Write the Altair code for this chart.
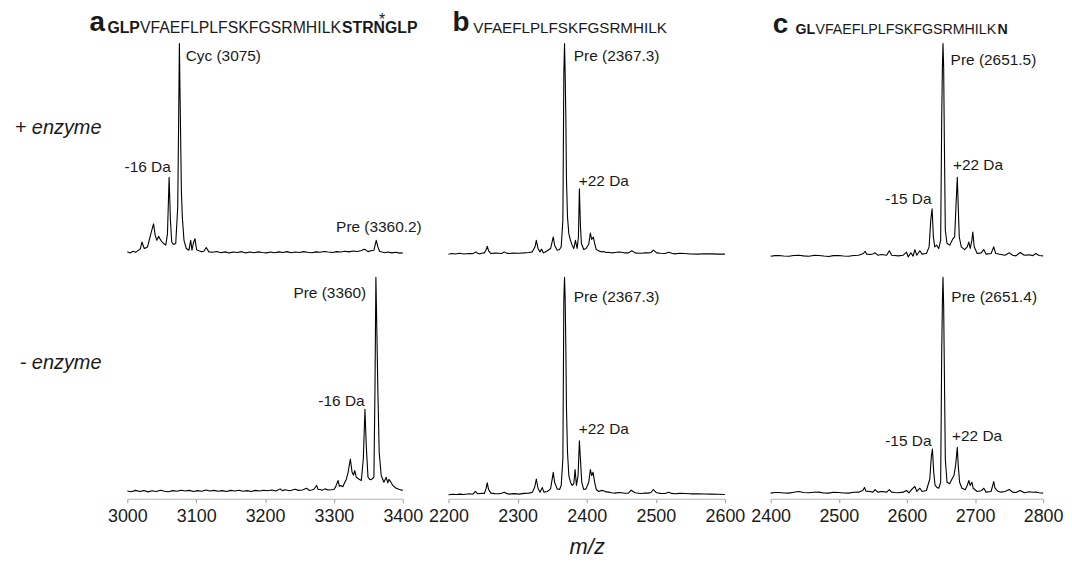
import altair as alt
import pandas as pd

FONT = "Liberation Sans"
INK = "#1a1a1a"

# ---------------- data (m/z, relative intensity) ----------------
a_top = [(3000, 0.5), (3004, 0.0), (3008, 0.8), (3012, 0.3), (3016, 1.2), (3019, 2.0), (3021.2, 5.2),
         (3024.6, 2.1), (3027, 2.4), (3029.4, 2.9), (3034.2, 9.2), (3038.1, 13.9), (3040.5, 8.4),
         (3042.9, 6.0), (3045.3, 7.9), (3048.6, 6.0), (3052.5, 4.5), (3055.9, 3.7), (3058.3, 9.2),
         (3060.7, 36.1), (3062.6, 15.5), (3064.5, 5.2), (3067, 4.0), (3070.3, 4.5), (3073.2, 21.9),
         (3074.6, 65.4), (3075.6, 100), (3077.0, 65.4), (3078.5, 29.8), (3079.9, 17.1), (3082.3, 6.0),
         (3085.7, 2.1), (3089.5, 1.3), (3092.0, 6.0), (3093.9, 1.3), (3095.8, 4.5), (3098.2, 6.8),
         (3100.6, 1.5), (3104.0, 1.0), (3108, 0.6), (3111.2, 0.8), (3114.6, 2.6), (3118.4, 0.5),
         (3124, 0.3), (3130, 0.7), (3136, 0.1), (3142, 0.5), (3148, 0.0), (3154, 0.4), (3160, 0.2),
         (3166, 0.6), (3172, 0.0), (3178, 0.4), (3184, 0.1), (3190, 0.5), (3196, 0.2), (3202, 0.0),
         (3208, 0.4), (3214, 0.1), (3220, 0.5), (3226, 0.2), (3232, 0.6), (3238, 0.1), (3244, 0.4),
         (3250, 0.2), (3256, 0.6), (3262, 0.3), (3268, 0.1), (3274, 0.5), (3280, 0.3), (3286, 0.7),
         (3292, 0.4), (3298, 0.2), (3304, 0.6), (3310, 0.4), (3316, 0.8), (3322, 0.5), (3328, 0.9),
         (3334, 0.7), (3339, 1.0), (3344.6, 1.8), (3349.5, 0.6), (3354, 1.0), (3358.1, 1.3),
         (3361.5, 6.0), (3363.9, 2.9), (3366.3, 0.8), (3370, 0.4), (3373.5, 0.1), (3378, 0.4),
         (3384, 0.0), (3390, 0.3), (3395, -0.1), (3400, 0.0)]

a_bot = [(3000, 0.6), (3006, 0.3), (3012, 0.9), (3018, 0.4), (3024, 0.8), (3030, 0.2), (3036, 0.7),
         (3042, 0.4), (3048, 1.0), (3054, 0.5), (3060, 0.3), (3066, 0.8), (3072, 0.5), (3078, 1.0),
         (3084, 0.6), (3090, 0.9), (3096, 0.4), (3102, 0.8), (3108, 0.5), (3114, 1.1), (3120, 0.6),
         (3126, 0.9), (3132, 0.5), (3138, 0.8), (3144, 0.4), (3150, 0.9), (3156, 0.6), (3162, 1.0),
         (3168, 0.5), (3174, 0.8), (3180, 0.4), (3186, 0.9), (3192, 0.6), (3198, 1.0), (3204, 0.7),
         (3210, 1.1), (3216, 0.6), (3221.9, 1.6), (3225, 0.8), (3229.1, 1.2), (3236, 0.7),
         (3243.6, 1.4), (3248.4, 0.9), (3254, 1.1), (3260.4, 1.9), (3264, 0.9), (3267.6, 1.1),
         (3271, 1.4), (3274.9, 3.2), (3277, 1.3), (3279.7, 1.3), (3283, 1.0), (3286.9, 1.6),
         (3292, 1.1), (3296.5, 1.2), (3300, 1.3), (3302.3, 2.4), (3306.1, 5.5), (3308, 2.8),
         (3310, 3.2), (3313, 2.6), (3315.8, 4.7), (3318, 6.0), (3320.6, 9.3), (3323.9, 15.5),
         (3326.4, 9.3), (3328.5, 8.0), (3330.2, 10.1), (3332.6, 7.0), (3336, 6.2), (3339.8, 5.5),
         (3342.7, 15.5), (3345.1, 38.6), (3347, 21.7), (3349.5, 7.0), (3352, 6.0), (3354.3, 5.9),
         (3358.1, 7.0), (3359.6, 46.3), (3361, 100), (3362.4, 74.8), (3363.9, 46.3), (3365.8, 18.6),
         (3368.7, 7.8), (3372.6, 4.7), (3375.9, 7.0), (3378.3, 4.4), (3380, 6.0), (3382.2, 5.0),
         (3385.5, 3.2), (3390.4, 1.9), (3395.2, 1.3), (3400, 0.9)]

b_top = [(2200, -0.6), (2205, -0.3), (2210, -0.5), (2215.8, -0.2), (2222, -0.5), (2230.2, -0.3),
         (2235, -0.4), (2239.8, 0.5), (2242.2, -0.2), (2244.6, -0.45), (2248, -0.2), (2251.8, 0.03),
         (2254.2, 1.3), (2256.1, 3.2), (2258.0, 1.0), (2261.4, -0.3), (2267, -0.1), (2273.4, -0.13),
         (2277, -0.3), (2280.6, 0.5), (2284, -0.1), (2287.8, -0.3), (2294, -0.1), (2302.2, -0.13),
         (2309, 0.0), (2316.5, 0.2), (2321.3, 0.5), (2325.2, 2.9), (2327.1, 6.0), (2329.5, 2.1),
         (2332.4, 0.5), (2334.8, 1.8), (2337.2, 0.03), (2340, 0.4), (2342.9, 1.0), (2347.7, 2.1),
         (2351.6, 7.6), (2353.5, 3.7), (2357.3, 1.3), (2360.7, 1.6), (2363.1, 2.9), (2365.5, 15.5),
         (2366.9, 85.2), (2367.9, 100), (2368.8, 86), (2369.8, 64.6), (2370.7, 35.3), (2372.2, 17.1),
         (2374.1, 9.2), (2376.5, 6.0), (2378.9, 3.7), (2381.3, 2.1), (2383.7, 6.0), (2386.1, 2.1),
         (2388.0, 7.6), (2389.4, 30.6), (2390.9, 13.2), (2392.3, 4.5), (2395.7, 1.6), (2399.0, 2.1),
         (2402.9, 4.1), (2405.3, 9.5), (2407.2, 6.4), (2409.6, 7.6), (2411.5, 4.5), (2413.9, 1.6),
         (2417.3, 0.97), (2421, 0.5), (2424.5, 0.66), (2428, 0.2), (2431.6, 0.34), (2436, 0.0),
         (2441.2, 0.2), (2446, 0.4), (2450.8, 0.34), (2455, 0.0), (2460.4, 0.03), (2465.2, 1.0),
         (2470.0, 0.03), (2475, -0.2), (2479.6, -0.13), (2484, 0.1), (2489.2, 0.03), (2493, 0.2),
         (2496.4, 1.3), (2501.2, 0.03), (2507, -0.2), (2513.2, -0.3), (2518.9, 0.34), (2523, -0.2),
         (2527.6, -0.45), (2535, -0.2), (2541.9, -0.3), (2550, -0.5), (2561.1, -0.6), (2570, -0.4),
         (2580.3, -0.45), (2590, -0.6), (2600, -0.6)]

b_bot = [(2200, -1.15), (2206, -0.9), (2212, -1.0), (2215.8, -0.85), (2222, -1.0), (2230.2, -0.69),
         (2235, -0.9), (2238.9, 0.39), (2242.2, -0.69), (2248, -0.5), (2251.8, -0.54), (2254.2, 1.6),
         (2256.1, 4.4), (2258.0, 1.3), (2261.4, -0.38), (2267, -0.6), (2273.4, -0.69), (2277, -0.4),
         (2280.6, 0.08), (2284, -0.5), (2287.8, -0.85), (2295, -0.6), (2302.2, -0.85), (2309, -0.5),
         (2316.5, -0.38), (2321.3, 0.08), (2324.7, 2.4), (2327.1, 6.2), (2329.5, 1.9), (2332.4, 0.08),
         (2335.7, 2.2), (2338.1, 0.08), (2342.9, 0.39), (2347.7, 1.6), (2351.6, 9.3), (2353.5, 4.7),
         (2357.3, 1.6), (2360.7, 1.3), (2363.1, 3.2), (2365.5, 15.5), (2366.9, 89.4), (2367.9, 100),
         (2368.8, 90.2), (2369.8, 67.1), (2370.7, 39.4), (2372.2, 18.6), (2374.1, 7.8), (2376.5, 4.7),
         (2378.9, 3.2), (2381.3, 4.0), (2383.2, 10.6), (2385.1, 3.2), (2387.5, 7.8), (2389.4, 24.0),
         (2390.9, 15.5), (2392.8, 4.7), (2395.7, 1.3), (2399.0, 1.6), (2402.9, 4.7), (2405.3, 10.6),
         (2407.2, 7.8), (2409.1, 9.3), (2411.5, 4.7), (2413.9, 1.3), (2417.3, 0.39), (2421, 0.9),
         (2424.5, 0.7), (2428, 0.2), (2431.6, 0.08), (2436, -0.2), (2441.2, -0.38), (2446, -0.1),
         (2450.8, -0.23), (2455, -0.4), (2460.4, -0.38), (2464.3, 1.0), (2470.0, -0.23), (2475, -0.4),
         (2479.6, -0.54), (2484, -0.3), (2489.2, -0.38), (2493, -0.1), (2496.4, 1.3), (2501.2, -0.23),
         (2507, -0.5), (2513.2, -0.54), (2518.9, 0.08), (2523, -0.5), (2527.6, -0.69), (2535, -0.5),
         (2541.9, -0.54), (2550, -0.7), (2561.1, -0.69), (2570, -0.8), (2580.3, -0.85), (2590, -0.9),
         (2600, -1.0)]

c_top = [(2400, -1.56), (2406, -1.3), (2412.2, -1.24), (2419, -1.5), (2426.8, -1.56), (2434, -1.2),
         (2441.4, -1.1), (2448, -1.4), (2456.0, -1.56), (2463, -1.2), (2470.6, -1.24), (2478, -1.5),
         (2485.2, -1.7), (2492, -1.3), (2499.8, -1.24), (2507, -1.5), (2514.4, -1.56), (2522, -1.2),
         (2529.0, -1.1), (2536.2, -0.3), (2538.7, 0.8), (2541.1, -0.6), (2546.0, -0.77), (2550, -0.5),
         (2553.3, 0.03), (2557.2, -1.1), (2563.0, -0.77), (2570.3, -1.1), (2574.2, 1.0), (2577.6, -1.1),
         (2582, -1.2), (2587.3, -1.4), (2594.6, -1.1), (2599.5, 0.34), (2601.9, -1.9), (2605.8, 0.03),
         (2609.2, -1.56), (2611.7, 1.6), (2614.6, -1.1), (2619.0, 1.0), (2622.4, -0.6), (2628.7, -0.3),
         (2632.6, 2.9), (2635.0, 15.5), (2637.0, 21.1), (2638.9, 7.6), (2640.9, 2.9), (2643.8, 3.7),
         (2646.7, 2.1), (2649.6, 6.0), (2651.1, 63.8), (2652.1, 88.3), (2653.0, 100), (2654.0, 88.3),
         (2655.0, 53.5), (2656.4, 10.8), (2658.9, 4.5), (2662.8, 3.7), (2665.2, 5.2), (2667.6, 6.8),
         (2670.1, 7.6), (2672.0, 21.9), (2674.0, 36.1), (2675.4, 21.9), (2676.9, 7.6), (2679.8, 2.9),
         (2684.7, 1.6), (2688.6, 2.9), (2691.0, 5.2), (2692.9, 2.1), (2695.4, 6.0), (2696.8, 10.0),
         (2698.8, 2.9), (2703.2, -0.3), (2709.0, 0.03), (2712.9, 1.6), (2716.3, -0.6), (2723.6, -0.3),
         (2727.5, 2.9), (2730.4, -0.3), (2738.2, -0.77), (2744.0, -1.1), (2750.4, 0.03), (2755.2, -1.1),
         (2760.1, -1.4), (2766.4, 0.2), (2772.3, -1.1), (2779.6, -0.92), (2785, -1.3), (2789.3, -0.3),
         (2794.2, -1.24), (2800, -1.4)]

c_bot = [(2400, -0.38), (2406, -0.1), (2412.2, -0.07), (2419, -0.3), (2426.8, -0.38), (2434, 0.0),
         (2441.4, 0.39), (2448, -0.1), (2456.0, -0.23), (2463, 0.0), (2470.6, 0.08), (2478, -0.3),
         (2485.2, -0.38), (2492, 0.0), (2499.8, -0.07), (2507, -0.3), (2514.4, -0.38), (2522, 0.0),
         (2529.0, 0.08), (2535.3, 0.85), (2537.7, 2.2), (2540.1, 0.54), (2546.0, 0.39), (2550, 0.1),
         (2553.3, 1.3), (2557.2, 0.08), (2563.0, 0.39), (2570.3, 0.08), (2574.2, 1.3), (2577.6, 0.08),
         (2582, -0.1), (2587.3, -0.23), (2594.6, 0.08), (2599.5, 0.85), (2602.9, -0.23), (2607.8, 1.6),
         (2611.7, 2.7), (2614.6, 0.39), (2619.0, 1.9), (2622.4, 0.39), (2628.7, 0.85), (2633.6, 6.2),
         (2636.0, 17.0), (2637.5, 20.1), (2639.4, 9.3), (2641.4, 3.2), (2643.8, 2.4), (2646.7, 1.9),
         (2649.6, 4.7), (2651.1, 64.8), (2652.1, 87.9), (2653.0, 100), (2654.0, 86.4), (2655.0, 57.1),
         (2656.4, 15.5), (2658.9, 4.7), (2662.8, 4.0), (2666.2, 6.2), (2669.1, 7.8), (2671.5, 12.4),
         (2674.0, 20.9), (2675.4, 12.4), (2677.4, 4.7), (2680.8, 1.9), (2685.6, 1.2), (2688.6, 3.2),
         (2691.0, 5.5), (2692.9, 3.2), (2695.4, 4.7), (2697.3, 1.9), (2703.2, 0.39), (2709.0, 0.7),
         (2712.9, 1.9), (2716.3, 0.08), (2723.6, 0.39), (2727.5, 5.0), (2729.4, 1.9), (2733.3, 0.54),
         (2738.2, 0.08), (2744.0, 0.39), (2750.4, 1.3), (2755.2, 0.08), (2760.1, -0.07), (2766.4, 0.85),
         (2772.3, -0.23), (2779.6, 0.24), (2785, 0.0), (2789.3, 0.08), (2794.2, -0.23), (2800, -0.38)]

# peak annotations: (m/z, intensity, text, align)
a_top_labels = [(3084.7, 93.9, "Cyc (3075)", "left"), (3063.1, 40.8, "-16 Da", "right"),
                (3303.2, 12.4, "Pre (3360.2)", "left")]
a_bot_labels = [(3347.0, 92.5, "Pre (3360)", "right"), (3344.6, 42.4, "-16 Da", "right")]
b_top_labels = [(2381.3, 93.9, "Pre (2367.3)", "left"), (2388.5, 34.5, "+22 Da", "left")]
b_bot_labels = [(2381.3, 91.0, "Pre (2367.3)", "left"), (2388.5, 29.4, "+22 Da", "left")]
c_top_labels = [(2664.2, 92.3, "Pre (2651.5)", "left"), (2667.6, 42.1, "+22 Da", "left"),
                (2636.1, 25.8, "-15 Da", "right")]
c_bot_labels = [(2665.3, 91.0, "Pre (2651.4)", "left"), (2666.2, 26.3, "+22 Da", "left"),
                (2636.1, 24.0, "-15 Da", "right")]

ticks_a = [3000, 3100, 3200, 3300, 3400]
ticks_b = [2200, 2300, 2400, 2500, 2600]
ticks_c = [2400, 2500, 2600, 2700, 2800]

row_labels = ["+ enzyme", "- enzyme"]
head_a = ["a", "GLP", "VFAEFLPLFSKFGSRMHILK", "STRN", "*", "GLP"]
head_b = ["b", "VFAEFLPLFSKFGSRMHILK"]
head_c = ["c", "GL", "VFAEFLPLFSKFGSRMHILK", "N"]
x_title = "m/z"

# ---------------- layout ----------------
TOP_H, BOT_H = 218, 225
W_A, W_B, W_C = 277, 278, 274
TOP_DOM = [-2.5, 101]
BOT_DOM = [-3, 101]
LABEL_SIZE = 15.5
SEQ_A = 15.9


def txt(text, px, py, size, weight="normal", style="normal", align="left"):
    return alt.Chart(pd.DataFrame({"t": [text]})).mark_text(
        align=align, baseline="alphabetic", font=FONT, fontSize=size, fontWeight=weight,
        fontStyle=style, color=INK).encode(x=alt.value(px), y=alt.value(py), text="t:N")


def panel(points, labels, ticks, width, height, ydom, show_axis, extras=(), title=None):
    df = pd.DataFrame(points, columns=["mz", "inten"])
    if show_axis:
        axis_kw = dict(values=ticks, format="d", labelFont=FONT, labelFontSize=18, labelColor=INK,
                       domainColor="#b3b3b3", tickColor="#9a9a9a", tickSize=4, labelPadding=5,
                       labelFlush=False, labelOverlap=False, grid=False)
        if title:
            axis_kw.update(title=title, titleFont=FONT, titleFontSize=22, titleFontStyle="italic",
                           titleFontWeight="normal", titleColor=INK, titlePadding=11)
        else:
            axis_kw.update(title=None)
        ax = alt.Axis(**axis_kw)
    else:
        ax = None
    x = alt.X("mz:Q", scale=alt.Scale(domain=[ticks[0], ticks[-1]], nice=False, zero=False), axis=ax)
    y = alt.Y("inten:Q", scale=alt.Scale(domain=ydom, nice=False, zero=False), axis=None)
    layers = [alt.Chart(df).mark_line(color="black", strokeWidth=1.1, strokeJoin="round").encode(x=x, y=y)]
    ldf = pd.DataFrame(labels, columns=["mz", "inten", "t", "al"])
    for al in ["left", "right"]:
        sub = ldf[ldf["al"] == al][["mz", "inten", "t"]]
        if len(sub):
            layers.append(
                alt.Chart(sub).mark_text(align=al, baseline="middle", font=FONT, fontSize=LABEL_SIZE,
                                         color=INK).encode(x=x, y=y, text="t:N"))
    layers.extend(extras)
    return alt.layer(*layers).properties(width=width, height=height)


# invisible anchor fixing the chart's top-left corner (page 8,8) relative to panel a (page 128,40)
anchor = alt.Chart(pd.DataFrame({"t": [0]})).mark_rect(opacity=0).encode(
    x=alt.value(-120), x2=alt.value(-119), y=alt.value(-32), y2=alt.value(-31))

extras_a_top = [
    anchor,
    txt(row_labels[0], -26, 93, 20, style="italic", align="right"),
    txt(head_a[0], -38, -10, 28, "bold"),
    txt(head_a[1], -20, -8.5, SEQ_A, "bold"),
    txt(head_a[2], 12.7, -8.5, SEQ_A),
    txt(head_a[3], 215.9, -8.5, SEQ_A, "bold"),
    txt(head_a[4], 253, -16, SEQ_A),
    txt(head_a[5], 259.2, -8.5, SEQ_A, "bold"),
]
extras_a_bot = [txt(row_labels[1], -26, 94, 20, style="italic", align="right")]
extras_b_top = [txt(head_b[0], 4, -10, 28, "bold"), txt(head_b[1], 25, -8.5, 15.3)]
extras_c_top = [txt(head_c[0], 2, -8, 28, "bold"), txt(head_c[1], 25, -7, 14.3, "bold"),
                txt(head_c[2], 45, -7, 14.3), txt(head_c[3], 228, -7, 14.3, "bold")]

charts = [
    panel(a_top, a_top_labels, ticks_a, W_A, TOP_H, TOP_DOM, False, extras_a_top),
    panel(b_top, b_top_labels, ticks_b, W_B, TOP_H, TOP_DOM, False, extras_b_top),
    panel(c_top, c_top_labels, ticks_c, W_C, TOP_H, TOP_DOM, False, extras_c_top),
    panel(a_bot, a_bot_labels, ticks_a, W_A, BOT_H, BOT_DOM, True, extras_a_bot),
    panel(b_bot, b_bot_labels, ticks_b, W_B, BOT_H, BOT_DOM, True, title=x_title),
    panel(c_bot, c_bot_labels, ticks_c, W_C, BOT_H, BOT_DOM, True),
]

chart = alt.concat(*charts, columns=3, spacing={"row": 17, "column": 46}, bounds="flush",
                   align="each").properties(padding=0)
chart = chart.configure(font=FONT).configure_view(strokeWidth=0)

chart.save("out.html", embed_options={"renderer": "svg", "actions": False})
